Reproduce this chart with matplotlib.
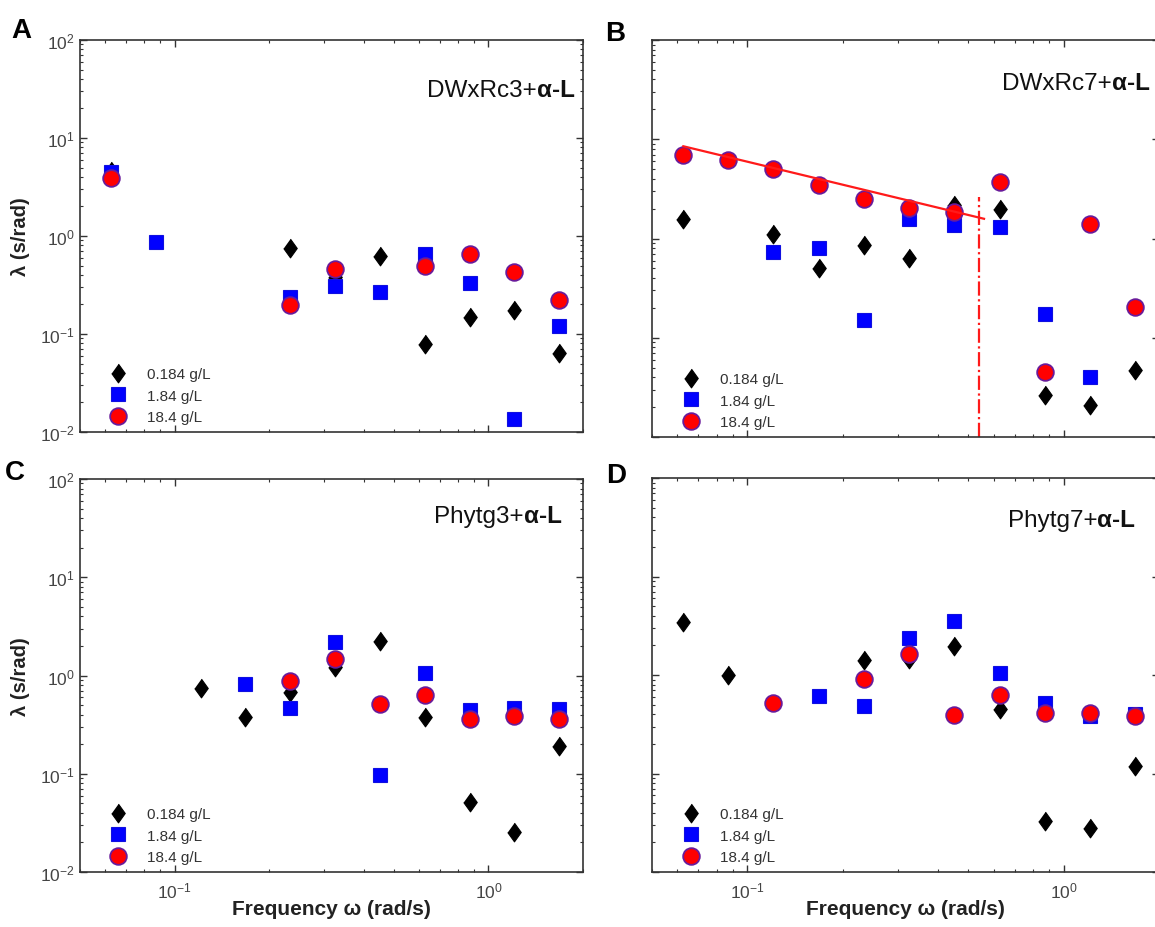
import numpy as np
import matplotlib
matplotlib.use('Agg')
import matplotlib.pyplot as plt

plt.rcParams['font.family'] = ['Liberation Sans', 'DejaVu Sans']
plt.rcParams['mathtext.fontset'] = 'custom'
plt.rcParams['mathtext.rm'] = 'Liberation Sans'
plt.rcParams['mathtext.it'] = 'Liberation Sans:italic'
plt.rcParams['mathtext.bf'] = 'Liberation Sans:bold'
plt.rcParams['axes.unicode_minus'] = False

nan = np.nan

# angular frequency (rad/s), shared by all panels
freq = [0.0628, 0.0872, 0.121, 0.168, 0.234, 0.325, 0.451, 0.627, 0.871, 1.21, 1.68]
conc_labels = ['0.184 g/L', '1.84 g/L', '18.4 g/L']

# panel A  DWxRc3
a_low = [4.6, nan, nan, nan, 0.75, 0.38, 0.62, 0.079, 0.148, 0.177, 0.064]
a_mid = [4.5, 0.86, nan, nan, 0.236, 0.31, 0.27, 0.65, 0.33, 0.0135, 0.122]
a_high = [3.9, nan, nan, nan, 0.196, 0.46, nan, 0.50, 0.65, 0.43, 0.22]

# panel B  DWxRc7
b_low = [1.58, nan, 1.11, 0.50, 0.87, 0.64, 2.2, 2.0, 0.0267, 0.0211, 0.0478]
b_mid = [nan, nan, 0.73, 0.80, 0.151, 1.58, 1.36, 1.32, 0.172, 0.040, nan]
b_high = [6.9, 6.2, 5.0, 3.44, 2.5, 2.05, 1.85, 3.7, 0.045, 1.39, 0.205]
# power-law fit and cut-off in panel B
fit_w = [0.0628, 0.56]
fit_lam = [8.5, 1.58]
cut_w = 0.54
cut_top = 2.6

# panel C  Phytg3
c_low = [nan, nan, 0.74, 0.38, 0.68, 1.22, 2.27, 0.38, 0.051, 0.0255, 0.191]
c_mid = [nan, nan, nan, 0.82, 0.47, 2.2, 0.098, 1.06, 0.45, 0.47, 0.46]
c_high = [nan, nan, nan, nan, 0.87, 1.48, 0.51, 0.64, 0.36, 0.385, 0.36]

# panel D  Phytg7
d_low = [3.49, 1.0, nan, nan, 1.41, 1.44, 1.97, 0.45, 0.0333, 0.028, 0.12]
d_mid = [nan, nan, nan, 0.61, 0.49, 2.4, 3.54, 1.06, 0.52, 0.38, 0.40]
d_high = [nan, nan, 0.52, nan, 0.92, 1.62, 0.39, 0.62, 0.41, 0.41, 0.38]

diamond = [(0, 1), (0.72, 0), (0, -1), (-0.72, 0)]
styles = [
    dict(marker=diamond, markersize=13.5, color='black', markeredgecolor='black', markeredgewidth=0.8),
    dict(marker='s', markersize=10.5, color='#0000ff', markeredgecolor='#1010e0', markeredgewidth=0.8),
    dict(marker='o', markersize=12, color='#ff0000', markeredgecolor='#6a1b9a', markeredgewidth=1.3),
]

W, H = 1155, 928
fig = plt.figure(figsize=(W / 100, H / 100), dpi=100)


def box(l, r, t, b):
    return [l / W, 1 - b / H, (r - l) / W, (b - t) / H]


panels = [
    ('A', box(80, 583, 41, 433), (a_low, a_mid, a_high), 'DWxRc3+', (0.984, 0.857), (11, 38), True, False),
    ('B', box(652, 1159, 41, 438), (b_low, b_mid, b_high), 'DWxRc7+', (0.982, 0.877), (605, 41), False, False),
    ('C', box(80, 583, 480, 873), (c_low, c_mid, c_high), 'Phytg3+', (0.958, 0.891), (5, 480), True, True),
    ('D', box(652, 1159, 479, 873), (d_low, d_mid, d_high), 'Phytg7+', (0.953, 0.878), (606, 483), False, True),
]

for letter, pos, series, name, tpos, lpos, ylab, xlab in panels:
    ax = fig.add_axes(pos)
    handles = []
    for vals, st, lab in zip(series, styles, conc_labels):
        h, = ax.plot(freq, vals, linestyle='none', label=lab, **st)
        handles.append(h)
    if letter == 'B':
        ax.plot(fit_w, fit_lam, color='#ff1a1a', lw=1.6, zorder=5)
        ax.vlines(cut_w, 1e-2, cut_top, colors='#ff1a1a', linestyles='-.', lw=1.6)

    ax.set_xscale('log')
    ax.set_yscale('log')
    ax.set_xlim(0.05, 2)
    ax.set_ylim(1e-2, 1e2)
    ax.tick_params(which='both', direction='in', top=True, right=True,
                   colors='#333333', labelcolor='#444444', labelsize=12.5)
    ax.tick_params(which='major', length=5, width=1)
    ax.tick_params(which='minor', length=2.5, width=0.8)
    ax.tick_params(axis='x', pad=6)
    ax.tick_params(axis='y', pad=4)
    for sp in ax.spines.values():
        sp.set_color('#333333')
        sp.set_linewidth(1.2)
    if not ylab:
        ax.tick_params(axis='y', which='both', labelleft=False)
    else:
        ax.set_ylabel('λ (s/rad)', fontsize=14.5, fontweight='bold', color='#222222')
        ax.yaxis.set_label_coords(-0.1, 0.5)
    if not xlab:
        ax.tick_params(axis='x', which='both', labelbottom=False)
    else:
        ax.set_xlabel('Frequency ω (rad/s)', fontsize=15, fontweight='bold', color='#222222')
        ax.xaxis.set_label_coords(0.5, -0.068)

    bold = ax.text(tpos[0], tpos[1], 'α-L', transform=ax.transAxes, fontsize=17.5,
                   fontweight='bold', ha='right', va='baseline', color='#111111')
    ax.annotate(name, xy=(0, 0), xycoords=bold, fontsize=17.5, ha='right', va='bottom',
                color='#111111')

    ax.legend(handles=handles, loc='lower left', bbox_to_anchor=(0.058, 0.02),
              frameon=False, borderpad=0, borderaxespad=0, handlelength=1.2,
              handletextpad=1.3, labelspacing=0.48, fontsize=11, labelcolor='#333333')

    fig.text(lpos[0] / W, 1 - lpos[1] / H, letter, fontsize=20, fontweight='bold',
             ha='left', va='baseline', color='black')

fig.savefig('out.png', dpi=100)
